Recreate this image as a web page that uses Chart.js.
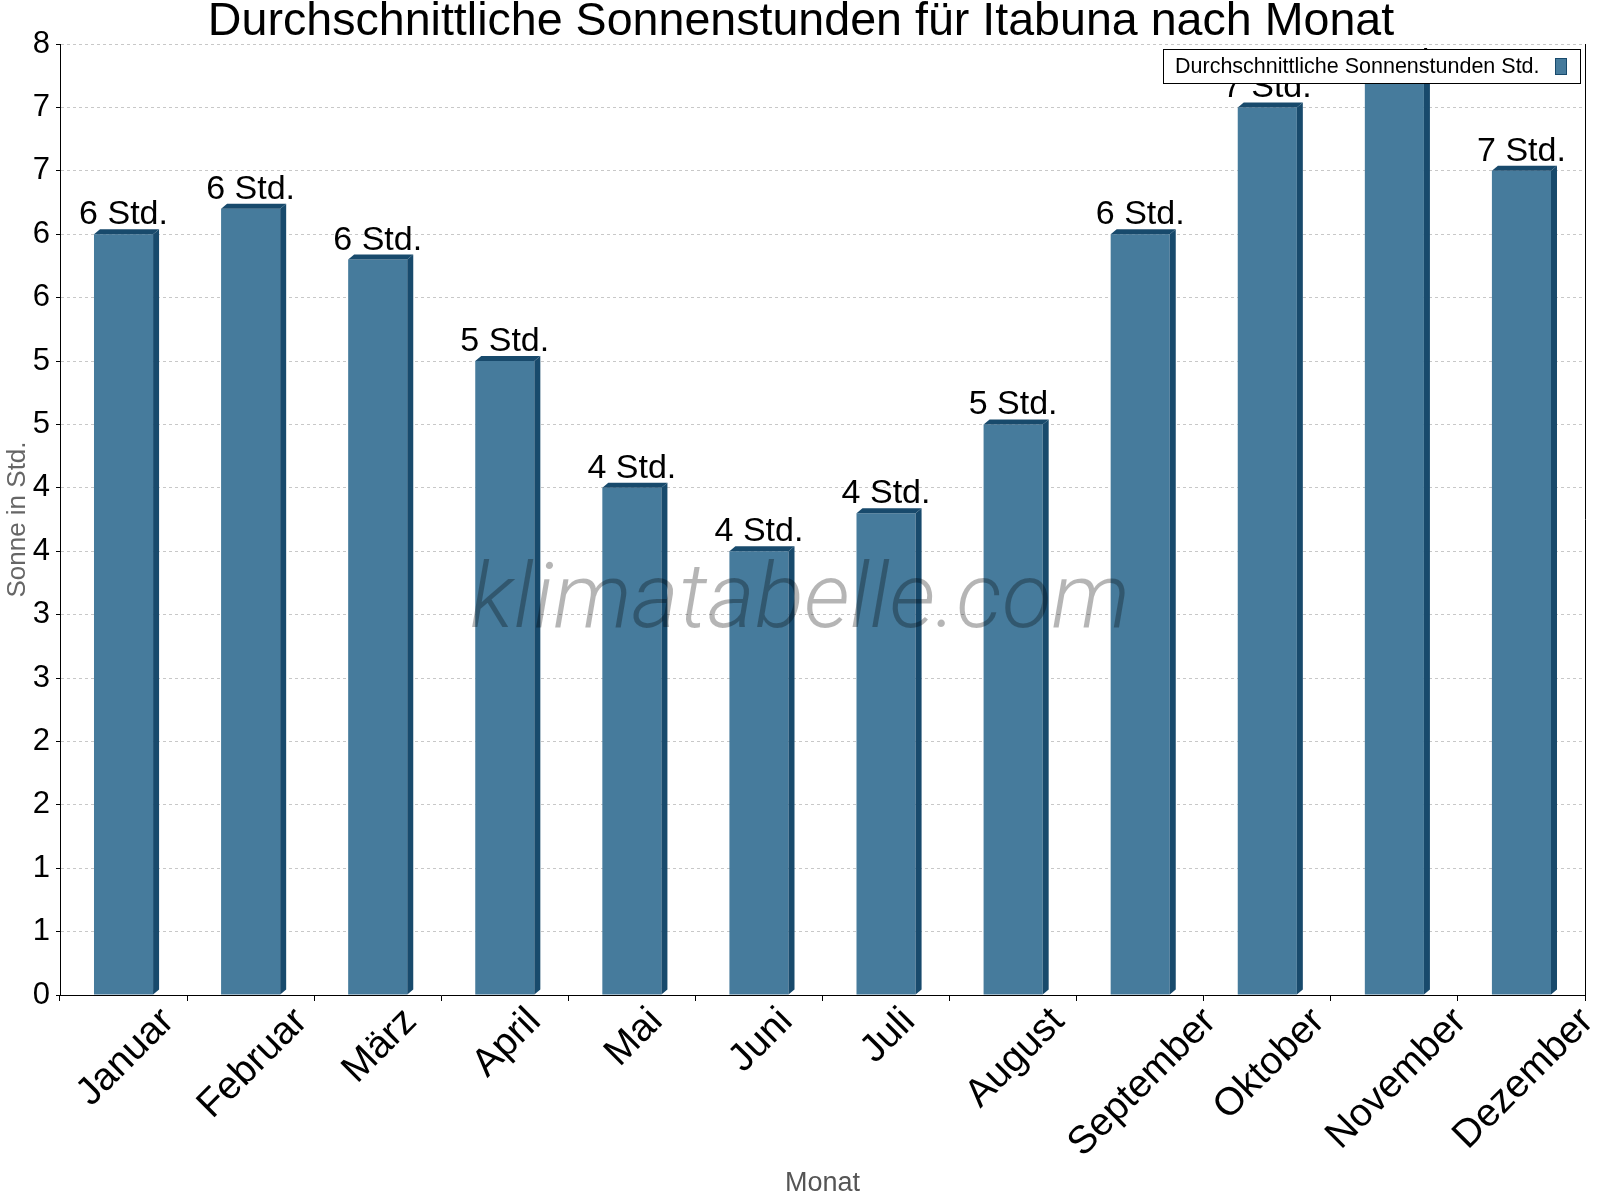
<!DOCTYPE html>
<html><head><meta charset="utf-8">
<script src="https://cdn.jsdelivr.net/npm/chart.js@4.4.0/dist/chart.umd.min.js"></script>
<style>html,body{margin:0;padding:0;background:#fff}#wrap{width:1600px;height:1200px;position:relative}</style>
</head><body><div id="wrap"><canvas id="c"></canvas></div>
<script>
const chartTitle = 'Durchschnittliche Sonnenstunden für Itabuna nach Monat';
const seriesLabel = 'Durchschnittliche Sonnenstunden Std.';
const xTitle = 'Monat';
const yTitle = 'Sonne in Std.';
const watermarkText = 'klimatabelle.com';
const months = ['Januar','Februar','März','April','Mai','Juni','Juli','August','September','Oktober','November','Dezember'];
const sunHours = [6.0, 6.2, 5.8, 5.0, 4.0, 3.5, 3.8, 4.5, 6.0, 7.0, 7.2, 6.5];
const barLabels = ['6 Std.','6 Std.','6 Std.','5 Std.','4 Std.','4 Std.','4 Std.','5 Std.','6 Std.','7 Std.','7 Std.','7 Std.'];
const yTickValues = [0, 0.5, 1, 1.5, 2, 2.5, 3, 3.5, 4, 4.5, 5, 5.5, 6, 6.5, 7, 7.5];
const yTickLabels = ['0','1','1','2','2','3','3','4','4','5','5','6','6','7','7','8'];

const FONT = '"Liberation Sans", Arial, Helvetica, sans-serif';
const FRONT = '#467b9c';
const SIDE = '#184a6c';

const threeD = {
  id: 'threeD',
  afterLayout(chart) {
    const tb = chart.titleBlock;
    if (tb) { tb.left = 2 * 801 - tb.right; }
  },
  afterDatasetsDraw(chart) {
    const {ctx, chartArea} = chart;
    const meta = chart.getDatasetMeta(0);
    ctx.save();
    ctx.beginPath();
    ctx.rect(chartArea.left, chartArea.top, chartArea.right - chartArea.left, chartArea.bottom - chartArea.top);
    ctx.clip();
    ctx.fillStyle = SIDE;
    const dx = 6, dy = 5;
    meta.data.forEach(bar => {
      const p = bar.getProps(['x', 'y', 'base', 'width'], true);
      const x1 = p.x - p.width / 2, x2 = p.x + p.width / 2;
      ctx.beginPath();
      ctx.moveTo(x2, p.y); ctx.lineTo(x2 + dx, p.y - dy); ctx.lineTo(x2 + dx, p.base - dy); ctx.lineTo(x2, p.base);
      ctx.closePath(); ctx.fill();
      ctx.beginPath();
      ctx.moveTo(x1, p.y); ctx.lineTo(x1 + dx, p.y - dy); ctx.lineTo(x2 + dx, p.y - dy); ctx.lineTo(x2, p.y);
      ctx.closePath(); ctx.fill();
    });
    ctx.restore();

    // watermark
    ctx.save();
    ctx.font = 'italic 300 100px Roboto, "Open Sans", sans-serif';
    const w100 = ctx.measureText(watermarkText).width;
    const size = 100 * 660 / w100;
    ctx.font = 'italic 300 ' + size + 'px Roboto, "Open Sans", sans-serif';
    ctx.fillStyle = 'rgba(0,0,0,0.29)';
    ctx.textAlign = 'center';
    ctx.textBaseline = 'alphabetic';
    ctx.fillText(watermarkText, 800, 627);
    ctx.restore();

    // value labels
    ctx.save();
    ctx.font = '34px ' + FONT;
    ctx.fillStyle = '#000';
    ctx.textAlign = 'center';
    ctx.textBaseline = 'alphabetic';
    meta.data.forEach((bar, i) => {
      const p = bar.getProps(['x', 'y'], true);
      ctx.fillText(barLabels[i], p.x, p.y - 10);
    });
    ctx.restore();
  },
  afterDraw(chart) {
    const {ctx, chartArea} = chart;
    ctx.save();
    // right frame line
    ctx.strokeStyle = '#000';
    ctx.lineWidth = 1;
    ctx.beginPath();
    ctx.moveTo(Math.round(chartArea.right) + 0.5, chartArea.top);
    ctx.lineTo(Math.round(chartArea.right) + 0.5, chartArea.bottom);
    ctx.stroke();

    // x category labels: rotated 45°, bounding box centred under category, top-aligned
    const xs = chart.scales.x;
    const fs = 39;
    ctx.font = fs + 'px ' + FONT;
    ctx.fillStyle = '#000';
    ctx.textAlign = 'center';
    ctx.textBaseline = 'alphabetic';
    const k = Math.SQRT1_2;
    const topY = chartArea.bottom + 7;
    chart.data.labels.forEach((lab, i) => {
      const cx = xs.getPixelForValue(i);
      const L = ctx.measureText(lab).width;
      const h = 0.8 * fs;
      const cy = topY + (L + h) * k / 2;
      ctx.save();
      ctx.translate(cx, cy);
      ctx.rotate(-Math.PI / 4);
      ctx.fillText(lab, 0, 0.36 * fs);
      ctx.restore();
    });

    // legend box
    const label = chart.data.datasets[0].label;
    ctx.font = '21.5px ' + FONT;
    const tw = ctx.measureText(label).width;
    const right = Math.round(chartArea.right) - 5;
    const top = Math.round(chartArea.top) + 5;
    const h = 34;
    const left = Math.round(right - (12 + tw + 15 + 12 + 13));
    ctx.fillStyle = '#fff';
    ctx.fillRect(left, top, right - left, h);
    ctx.strokeStyle = '#000';
    ctx.strokeRect(left + 0.5, top + 0.5, right - left, h);
    ctx.fillStyle = '#000';
    ctx.textBaseline = 'middle';
    ctx.textAlign = 'left';
    ctx.fillText(label, left + 12, top + h / 2 + 1);
    const sx = Math.round(left + 12 + tw + 15);
    ctx.fillStyle = FRONT;
    ctx.fillRect(sx, top + 9, 12, 17);
    ctx.strokeStyle = SIDE;
    ctx.strokeRect(sx + 0.5, top + 9.5, 11, 16);
    ctx.restore();
  }
};

new Chart(document.getElementById('c'), {
  type: 'bar',
  data: {
    labels: months,
    datasets: [{
      label: seriesLabel,
      data: sunHours,
      backgroundColor: FRONT,
      borderWidth: 0,
      barPercentage: 0.465,
      categoryPercentage: 1.0
    }]
  },
  options: {
    responsive: true,
    maintainAspectRatio: false,
    animation: false,
    devicePixelRatio: 1,
    layout: {padding: {left: 0, right: 15, top: 0, bottom: 0}},
    plugins: {
      legend: {display: false},
      tooltip: {enabled: false},
      title: {
        display: true,
        text: chartTitle,
        color: '#000',
        font: {family: FONT, size: 46.6, weight: 'normal', lineHeight: 44 / 46.6},
        padding: 0
      }
    },
    scales: {
      x: {
        afterFit(scale) { scale.height = 205; },
        grid: {display: true, drawOnChartArea: false, offset: true, tickLength: 6, tickColor: '#000', color: '#000'},
        border: {display: true, color: '#000', width: 1},
        ticks: {display: false, autoSkip: false},
        title: {display: true, text: xTitle, color: '#555', font: {family: FONT, size: 27}, padding: {top: 4, bottom: 0}}
      },
      y: {
        min: 0,
        max: 7.5,
        afterFit(scale) { scale.width = 60; },
        afterBuildTicks(scale) { scale.ticks = yTickValues.map(v => ({value: v})); },
        grid: {color: '#c8c8c8', lineWidth: 1, tickColor: '#000', tickLength: 4, tickBorderDash: []},
        border: {display: true, color: '#000', width: 1, dash: [3, 3]},
        ticks: {
          color: '#000', font: {family: FONT, size: 31}, padding: 6, autoSkip: false,
          callback(value, index) { return yTickLabels[index]; }
        },
        title: {display: true, text: yTitle, color: '#666', font: {family: FONT, size: 26}, padding: {top: 2, bottom: 4}}
      }
    }
  },
  plugins: [threeD]
});
</script>
</body></html>
